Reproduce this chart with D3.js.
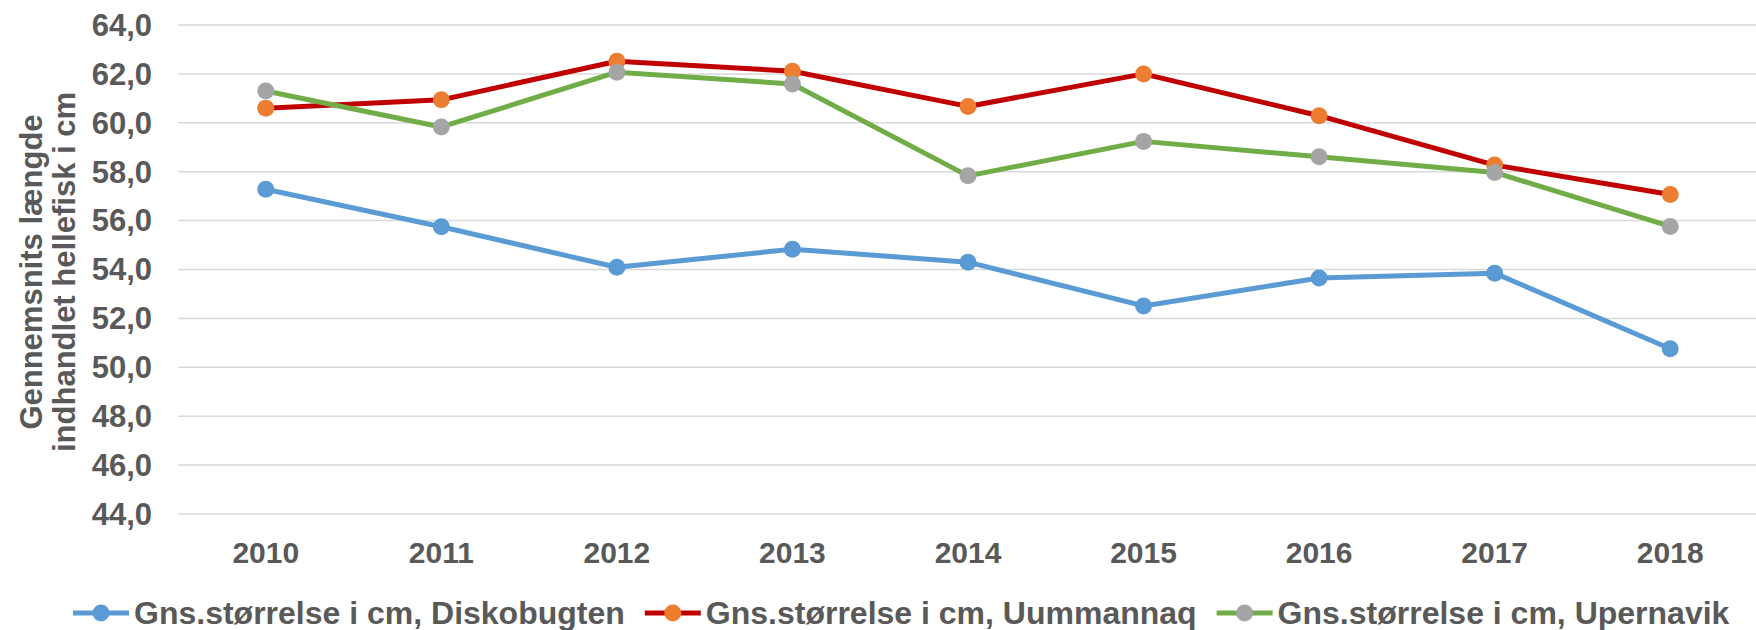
<!DOCTYPE html>
<html>
<head>
<meta charset="utf-8">
<script src="https://cdn.jsdelivr.net/npm/d3@7"></script>
<style>
  body { margin: 0; background: #fff; }
  text { font-family: "Liberation Sans", Arial, sans-serif; font-weight: bold; fill: #595959; }
</style>
</head>
<body>
<svg id="chart" width="1756" height="630"></svg>
<script>
const years = ["2010", "2011", "2012", "2013", "2014", "2015", "2016", "2017", "2018"];
const disko = [57.28, 55.75, 54.09, 54.83, 54.30, 52.51, 53.65, 53.85, 50.76];
const uummannaq = [60.60, 60.94, 62.52, 62.11, 60.67, 62.00, 60.29, 58.27, 57.07];
const upernavik = [61.30, 59.83, 62.07, 61.59, 57.83, 59.24, 58.61, 57.97, 55.76];
const yTicks = [44, 46, 48, 50, 52, 54, 56, 58, 60, 62, 64];
const seriesNames = [
  "Gns.størrelse i cm, Diskobugten",
  "Gns.størrelse i cm, Uummannaq",
  "Gns.størrelse i cm, Upernavik"
];
const yTitle = ["Gennemsnits længde", "indhandlet hellefisk i cm"];

const series = [
  { name: seriesNames[0], values: disko, line: "#5B9BD5", dot: "#5B9BD5" },
  { name: seriesNames[1], values: uummannaq, line: "#C00000", dot: "#ED7D31" },
  { name: seriesNames[2], values: upernavik, line: "#70AD47", dot: "#A5A5A5" }
];

const svg = d3.select("#chart");
const margin = { left: 178, right: 0, top: 25, bottom: 116 };
const width = 1756, height = 630;

const x = d3.scalePoint().domain(years).range([margin.left, width + 2]).padding(0.5);
const y = d3.scaleLinear().domain([44, 64]).range([height - margin.bottom, margin.top]);

// gridlines
svg.append("g")
  .selectAll("line")
  .data(yTicks)
  .join("line")
  .attr("x1", margin.left)
  .attr("x2", width)
  .attr("y1", d => y(d))
  .attr("y2", d => y(d))
  .attr("stroke", "#d9d9d9")
  .attr("stroke-width", 1.5);

// y axis labels
const fmt = d => d.toFixed(1).replace(".", ",");
svg.append("g")
  .selectAll("text")
  .data(yTicks)
  .join("text")
  .attr("x", 152)
  .attr("y", d => y(d))
  .attr("dy", "0.35em")
  .attr("text-anchor", "end")
  .style("font-size", "31px")
  .text(fmt);

// x axis labels
svg.append("g")
  .selectAll("text")
  .data(years)
  .join("text")
  .attr("x", d => x(d))
  .attr("y", 563)
  .attr("text-anchor", "middle")
  .style("font-size", "30px")
  .text(d => d);

// y axis title, two lines
const titleX = [31, 64];
svg.append("g")
  .selectAll("text")
  .data(yTitle)
  .join("text")
  .attr("transform", (d, i) => "translate(" + titleX[i] + ",272) rotate(-90)")
  .attr("text-anchor", "middle")
  .attr("dy", "0.35em")
  .style("font-size", "31px")
  .text(d => d);

// lines + markers
const line = d3.line()
  .x((d, i) => x(years[i]))
  .y(d => y(d));

series.forEach(s => {
  const g = svg.append("g");
  g.append("path")
    .datum(s.values)
    .attr("d", line)
    .attr("fill", "none")
    .attr("stroke", s.line)
    .attr("stroke-width", 5)
    .attr("stroke-linejoin", "round");
  g.selectAll("circle")
    .data(s.values)
    .join("circle")
    .attr("cx", (d, i) => x(years[i]))
    .attr("cy", d => y(d))
    .attr("r", 8.5)
    .attr("fill", s.dot);
});

// legend: symbol + text, laid out left to right
const legend = svg.append("g").attr("transform", "translate(73,613)");
let lx = 0;
series.forEach(s => {
  const item = legend.append("g").attr("transform", "translate(" + lx + ",0)");
  item.append("line")
    .attr("x1", 0).attr("x2", 56)
    .attr("stroke", s.line)
    .attr("stroke-width", 5);
  item.append("circle")
    .attr("cx", 28).attr("r", 8.5)
    .attr("fill", s.dot);
  const t = item.append("text")
    .attr("x", 61)
    .attr("dy", "0.35em")
    .style("font-size", "32px")
    .text(s.name);
  lx += 61 + t.node().getComputedTextLength() + 20;
});
</script>
</body>
</html>
